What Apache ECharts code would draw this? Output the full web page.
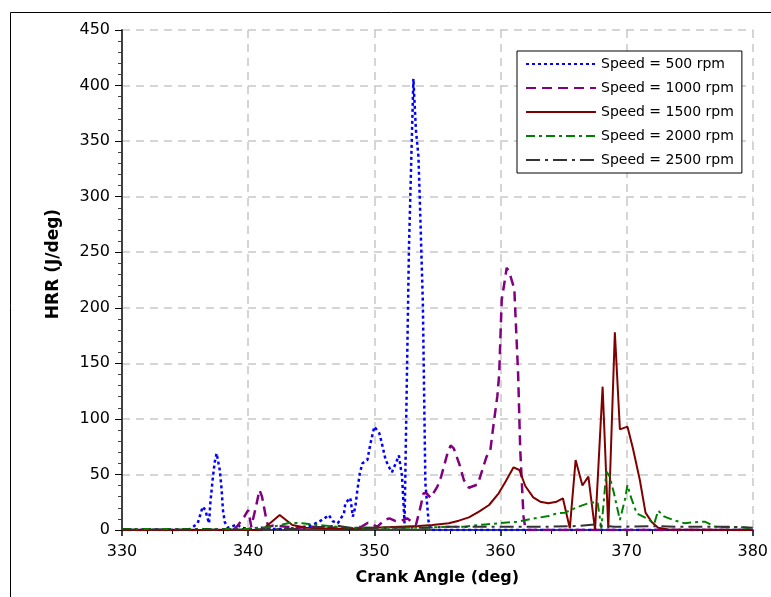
<!DOCTYPE html>
<html>
<head>
<meta charset="utf-8">
<script src="https://cdn.jsdelivr.net/npm/echarts@6/dist/echarts.min.js"></script>
<style>html,body{margin:0;padding:0;background:#fff;}#c{width:771px;height:597px;}</style>
</head>
<body>
<div id="c"></div>
<script>
// ---- Data (crank angle in deg, HRR in J/deg) ----
const seriesNames = ['Speed = 500 rpm','Speed = 1000 rpm','Speed = 1500 rpm','Speed = 2000 rpm','Speed = 2500 rpm'];
const xTicks = [330,340,350,360,370,380];
const yTicks = [0,50,100,150,200,250,300,350,400,450];

const angle500 = [330,335,335.4,336.0,336.4,336.6,336.9,337.0,337.2,337.35,337.5,337.75,337.9,338.0,338.15,338.4,338.7,339.1,339.5,340,341,342,343,344,345,345.6,346.0,346.4,346.7,347.1,347.6,347.7,348.1,348.3,348.5,348.66,348.85,349.06,349.45,349.7,350.0,350.4,350.6,350.9,351.2,351.4,351.7,351.95,352.2,352.4,352.75,353.1,353.3,353.5,353.65,353.85,354.05,354.3,354.5,380];
const hrr500   = [0,0,1,6,21,18,6,24,47,61,69,54,36,18,7,2,3,5,2,1,2,1,1,2,4,7.5,10,13.5,8,6,15,24,29,12,21,36,51,60,63,78,93,87,78,63,56,52,60,67,48,6,255,406,360,336,282,204,42,8,0,0];

const angle1000 = [330,338.8,339.1,339.7,340.0,340.25,340.6,340.9,341.1,341.45,341.6,342,343,344,345,346,347,348,349,349.5,350.25,350.8,351.2,351.7,352.35,352.6,353.3,353.67,353.9,354.15,354.46,355.0,355.3,355.8,356.05,356.3,356.75,357.1,357.5,358.2,358.9,359.2,359.5,359.75,359.9,360.1,360.5,360.7,361.1,361.4,361.57,361.83,362.0,380];
const hrr1000   = [0,0,3,12,18,3,20,36,30,9,3,4,3,2,3,2,2,1,3,6.5,3,9,10.5,8,9,10.5,4.5,21,33,33,29,39,48,69,76,73.5,59,45,38,41,66,72,99,120,140,207,236,232,217,141,72,12,0,0];

const angle1500 = [330,341.0,341.2,342.5,343.5,344.6,346,348,350,352,353.5,354.6,355.9,356.7,357.5,358.3,359.1,359.86,360.4,361.04,361.5,361.97,362.6,363.15,363.8,364.46,364.95,365.5,365.96,366.5,366.97,367.5,368.1,368.55,369.07,369.47,370.07,370.5,371.05,371.5,371.97,372.5,373.3,380];
const hrr1500   = [0,0,1,13.5,4.5,2,1.5,1,2,3,3.6,4.5,6,8.4,11.4,16.5,22.5,33,43.5,56.4,54,39.6,29.4,25.5,24,25.5,28.5,1.5,63,40,48,0,129,1.5,178,90.6,93,73.5,45,15.6,7.5,2,0.5,0];

const angle2000 = [330,335,340,342,343.3,344.3,345,346,347,348,350,352,354,356,357.2,357.9,358.8,359.86,361.3,362.75,363.8,364.5,365.1,366.2,367.1,367.7,368.0,368.4,368.66,369.0,369.47,369.86,370.07,370.33,370.8,371.6,372.2,372.5,373.0,373.7,374.6,375.4,376.2,377.0,378,379,380];
const hrr2000   = [1,1,1,3,6.5,6,5,4,3,2,2,2,2,3,3,4,5,6,7.5,10.5,12.6,15,15.6,21,24.6,25,1.5,52.5,48,33,9,27,40.5,30,15,10.5,6,17.4,12,9,6,7,7.5,3,2.5,2.5,1.5];

const angle2500 = [330,340,344,346,347,348,350,352,354,356,358,360,362,364,366,367.5,368,369,370,372,374,376,378,380];
const hrr2500   = [0.5,0.5,1,3,4,2,2,2,2,3,3,3,3,3,3.5,5,4,3,3,3.5,3,3,3,2];

const colors = ['#0000ff','#800080','#800000','#008000','#333333'];

function zip(a,b){ return a.map((x,i)=>[x,b[i]]); }
const allData = [zip(angle500,hrr500), zip(angle1000,hrr1000), zip(angle1500,hrr1500), zip(angle2000,hrr2000), zip(angle2500,hrr2500)];
const dashes = [[3,3],[10,6],'solid',[9,4,3,4],[14,5,3,5]];
const widths = [2.5,2.5,2,2,2];

const chart = echarts.init(document.getElementById('c'));
const font = 'DejaVu Sans';
chart.setOption({
  animation:false,
  backgroundColor:'#ffffff',
  graphic:[{type:'rect',left:8,top:10,shape:{width:800,height:700},style:{fill:'none',stroke:'#000',lineWidth:1},silent:true,z:-10}],
  grid:{left:122,right:16,top:30,bottom:67},
  legend:{
    orient:'vertical',left:517,top:51,
    data:seriesNames,
    itemWidth:70,itemHeight:14,itemGap:10,
    padding:[6,8,6,8],
    backgroundColor:'#fff',borderColor:'#000',borderWidth:1,
    itemStyle:{opacity:0},
    textStyle:{fontFamily:font,fontSize:14,color:'#000'}
  },
  xAxis:{
    type:'value',min:330,max:380,interval:10,
    name:'Crank Angle (deg)',nameLocation:'middle',nameGap:40,
    nameTextStyle:{fontFamily:font,fontSize:16,fontWeight:'bold',color:'#000'},
    axisLine:{show:true,onZero:false,lineStyle:{color:'#404040',width:2}},
    axisTick:{show:true,length:6,lineStyle:{color:'#000',width:1.5}},
    minorTick:{show:true,splitNumber:5,length:4,lineStyle:{color:'#000'}},
    axisLabel:{fontFamily:font,fontSize:16,color:'#000',margin:14,
      formatter:v=>xTicks.includes(v)?String(v):''},
    splitLine:{show:true,lineStyle:{color:'#c8c8c8',width:1.5,type:[8,6]}}
  },
  yAxis:{
    type:'value',min:0,max:450,interval:50,
    name:'HRR (J/deg)',nameLocation:'middle',nameGap:60,nameRotate:90,
    nameTextStyle:{fontFamily:font,fontSize:17,fontWeight:'bold',color:'#000',padding:[0,0,0,32]},
    axisLine:{show:true,lineStyle:{color:'#404040',width:2}},
    axisTick:{show:true,length:7,lineStyle:{color:'#000',width:1}},
    minorTick:{show:true,splitNumber:5,length:4,lineStyle:{color:'#404040'}},
    axisLabel:{fontFamily:font,fontSize:16,color:'#000',margin:12,
      formatter:v=>yTicks.includes(v)?String(v):''},
    splitLine:{show:true,lineStyle:{color:'#c8c8c8',width:1.5,type:[8,6]}}
  },
  series: seriesNames.map((n,i)=>({
    name:n,type:'line',data:allData[i],symbol:'none',
    lineStyle:{color:colors[i],width:widths[i],type:dashes[i]},
    itemStyle:{color:colors[i]}
  }))
});
</script>
</body>
</html>
